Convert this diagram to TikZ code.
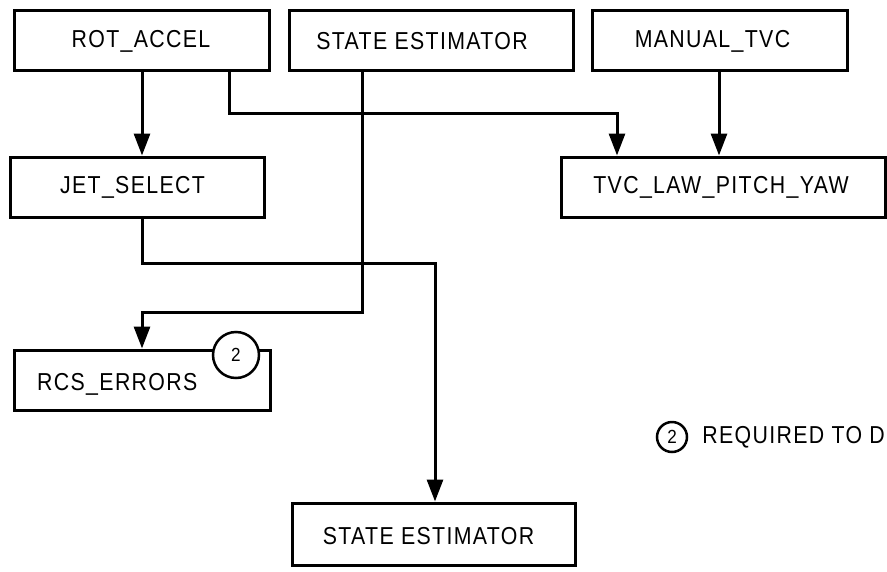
\documentclass[tikz,border=0pt]{standalone}
\usepackage{fontspec}
\setmainfont{Liberation Sans}
\newfontfamily\lblfont[FakeStretch=0.87, LetterSpace=5.5]{Liberation Sans}
\newfontfamily\tagfont[FakeStretch=0.9]{Liberation Sans}
\usetikzlibrary{arrows.meta}
\begin{document}
\begin{tikzpicture}[x=1pt,y=-1pt,
  box/.style={draw, line width=3pt, rectangle, inner sep=0pt, fill=white},
  lbl/.style={inner sep=0pt, font=\lblfont\fontsize{24.5}{27}\selectfont},
  arr/.style={line width=3pt, -{Triangle[length=22pt,width=16pt]}},
  tag/.style={draw, circle, line width=2.5pt, fill=white, inner sep=0pt, font=\tagfont\fontsize{19}{21}\selectfont}
]
\useasboundingbox (0,0) rectangle (887,571);
% boxes
\node[box, minimum width=255pt, minimum height=60pt] (rot) at (141.5,40) {};
\node[lbl] (rott) at (141,41.5) {ROT\_ACCEL};
\node[box, minimum width=284pt, minimum height=60pt] (se1) at (431,40) {};
\node[lbl] (se1t) at (422,41.5) {STATE ESTIMATOR};
\node[box, minimum width=255pt, minimum height=60pt] (man) at (719.5,40) {};
\node[lbl] (mant) at (712.5,41.5) {MANUAL\_TVC};
\node[box, minimum width=254pt, minimum height=60pt] (jet) at (137,187) {};
\node[lbl] (jett) at (132.5,187.5) {JET\_SELECT};
\node[box, minimum width=324pt, minimum height=60pt] (tvc) at (723,187) {};
\node[lbl] (tvct) at (721,187.5) {TVC\_LAW\_PITCH\_YAW};
\node[box, minimum width=256pt, minimum height=60pt] (rcs) at (142,380) {};
\node[lbl, anchor=west] (rcst) at (37,384) {RCS\_ERRORS};
\node[box, minimum width=283pt, minimum height=62pt] (se2) at (433.5,534) {};
\node[lbl] (se2t) at (428.5,536) {STATE ESTIMATOR};
% legend
\node[tag, minimum size=30pt] (c2) at (672,437) {2};
\node[lbl, anchor=east] (legt) at (885,437) {REQUIRED TO D};
% x guides
\coordinate (xa) at (142,0);
\coordinate (xb) at (229,0);
\coordinate (xc) at (362,0);
\coordinate (xd) at (617,0);
\coordinate (xe) at (719,0);
\coordinate (xf) at (435,0);
\coordinate (ya) at (0,113);
\coordinate (yb) at (0,312);
\coordinate (yc) at (0,263);
% connectors
\draw[arr] (rot.south -| xa) -- (jet.north -| xa);
\draw[arr] (rot.south -| xb) -- (ya -| xb) -- (ya -| xd) -- (tvc.north -| xd);
\draw[arr] (man.south -| xe) -- (tvc.north -| xe);
\draw[arr] (se1.south -| xc) -- (yb -| xc) -- (yb -| xa) -- (rcs.north -| xa);
\draw[arr] (jet.south -| xa) -- (yc -| xa) -- (yc -| xf) -- (se2.north -| xf);
% tag circle on top of the RCS box
\node[tag, minimum size=46pt] (c1) at (236,355) {2};
\end{tikzpicture}
\end{document}
